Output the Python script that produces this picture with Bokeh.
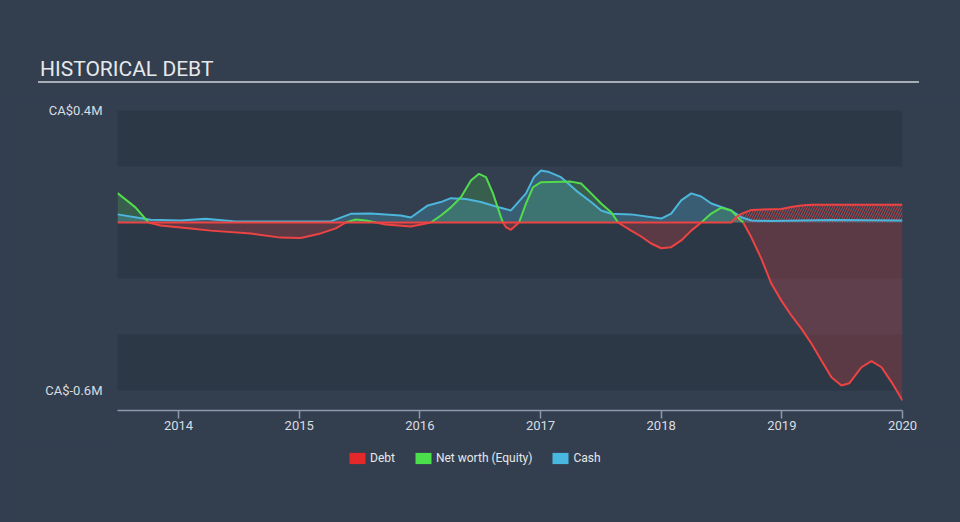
from bokeh.plotting import figure
from bokeh.models import Range1d, FixedTicker, BoxAnnotation, Legend, LegendItem, Div
from bokeh.layouts import column
from bokeh.embed import file_html
from bokeh.resources import INLINE
import numpy as np

# ---------------- data (years, CA$ millions) ----------------
debt_t = [2013.494, 2018.581, 2018.622, 2018.664, 2018.747, 2018.996, 2019.079, 2019.162, 2019.245, 2020.0]
debt_v = [0.0, 0.0, 0.019, 0.031, 0.045, 0.048, 0.055, 0.061, 0.063, 0.063]

cash_t = [2013.494, 2013.768, 2014.017, 2014.224, 2014.473, 2014.680, 2015.261, 2015.427, 2015.593,
          2015.842, 2015.925, 2016.066, 2016.174, 2016.257, 2016.382, 2016.506, 2016.631, 2016.755,
          2016.880, 2016.946, 2017.004, 2017.071, 2017.170, 2017.295, 2017.419, 2017.502, 2017.585,
          2017.751, 2018.000, 2018.083, 2018.166, 2018.249, 2018.332, 2018.415, 2018.581, 2018.664,
          2018.747, 2018.913, 2019.411, 2020.0]
cash_v = [0.029, 0.010, 0.007, 0.013, 0.004, 0.004, 0.004, 0.031, 0.032,
          0.025, 0.018, 0.061, 0.073, 0.087, 0.084, 0.073, 0.057, 0.043,
          0.104, 0.162, 0.186, 0.180, 0.162, 0.114, 0.073, 0.043, 0.031,
          0.029, 0.014, 0.032, 0.079, 0.104, 0.093, 0.068, 0.043, 0.019,
          0.007, 0.005, 0.009, 0.007]

nw_t = [2013.494, 2013.643, 2013.751, 2013.851, 2014.100, 2014.266, 2014.598, 2014.846, 2015.012,
        2015.178, 2015.303, 2015.386, 2015.469, 2015.552, 2015.635, 2015.718, 2015.925, 2016.091,
        2016.174, 2016.257, 2016.340, 2016.423, 2016.490, 2016.548, 2016.606, 2016.672, 2016.689,
        2016.714, 2016.755, 2016.822, 2016.880, 2016.938, 2017.004, 2017.253, 2017.336, 2017.419,
        2017.502, 2017.585, 2017.643, 2017.751, 2017.834, 2017.917, 2018.000, 2018.083, 2018.166,
        2018.249, 2018.332, 2018.415, 2018.498, 2018.581, 2018.647, 2018.680, 2018.747, 2018.830,
        2018.913, 2018.996, 2019.079, 2019.162, 2019.245, 2019.328, 2019.411, 2019.494, 2019.560,
        2019.660, 2019.743, 2019.826, 2019.909, 2020.0]
nw_v = [0.105, 0.054, 0.0, -0.011, -0.021, -0.029, -0.039, -0.054, -0.055,
        -0.039, -0.021, 0.0, 0.011, 0.007, 0.0, -0.007, -0.014, 0.0,
        0.025, 0.054, 0.090, 0.150, 0.174, 0.162, 0.104, 0.019, 0.0,
        -0.017, -0.026, 0.0, 0.068, 0.126, 0.144, 0.146, 0.139, 0.104,
        0.068, 0.037, 0.0, -0.029, -0.050, -0.075, -0.092, -0.088, -0.064,
        -0.029, 0.0, 0.032, 0.053, 0.043, 0.013, 0.0, -0.053, -0.129,
        -0.218, -0.279, -0.332, -0.379, -0.432, -0.493, -0.553, -0.582, -0.574,
        -0.517, -0.495, -0.517, -0.570, -0.636]

x_ticks = [2014, 2015, 2016, 2017, 2018, 2019, 2020]
x_tick_labels = ["2014", "2015", "2016", "2017", "2018", "2019", "2020"]
y_ticks = [-0.6, 0.4]
y_tick_labels = ["CA$-0.6M", "CA$0.4M"]
band_edges = [-0.6, -0.4, -0.2, 0.0, 0.2, 0.4]
series_names = ["Debt", "Net worth (Equity)", "Cash"]
title_text = "HISTORICAL DEBT"

# ---------------- style ----------------
BG = "#333f4f"
BAND = "#2d3846"
FONT = "Roboto"
RED = "#ee4343"
RED_L = "#e5292b"
GREEN = "#52dc4d"
GREEN_L = "#4be04b"
BLUE = "#4cb6dc"
BLUE_L = "#48b8e0"
TXT = "#d9dde2"

# ---------------- title strip ----------------
title_div = Div(
    width=960, height=102,
    text=('<div style="margin:0; margin-left:38px; margin-top:57px; width:881px; padding-left:2px; '
          'border-bottom:2px solid #a7adb5; font-family:Roboto; font-size:21px; line-height:24px; '
          'color:#e6e8ea; white-space:nowrap;">' + title_text + '</div>'),
    styles={"background-color": BG, "margin": "0", "padding": "0"},
)

# ---------------- main chart ----------------
p = figure(frame_width=785, frame_height=300,
           x_range=Range1d(2013.494, 2020.0), y_range=Range1d(-0.6714, 0.4),
           output_backend="svg", toolbar_location=None,
           min_border_left=117, min_border_right=58, min_border_top=8, min_border_bottom=30)
p.background_fill_color = BG
p.border_fill_color = BG
p.outline_line_color = None
p.xgrid.visible = False
p.ygrid.visible = False

for i in range(len(band_edges) - 1):
    if i % 2 == 0:
        p.add_layout(BoxAnnotation(bottom=band_edges[i], top=band_edges[i + 1],
                                   fill_color=BAND, fill_alpha=1.0, line_color=None, level="underlay"))

nw = np.array(nw_v)
nw_pos_fill = np.maximum(nw, 0)
nw_neg_fill = np.minimum(nw, 0)
nw_pos_line = np.where(nw >= 0, nw, np.nan)
nw_neg_line = np.where(nw <= 0, nw, np.nan)

p.varea(x=nw_t, y1=0, y2=nw_neg_fill, fill_color=RED, fill_alpha=0.24)
p.varea(x=nw_t, y1=0, y2=nw_pos_fill, fill_color=GREEN, fill_alpha=0.2)
p.varea(x=cash_t, y1=0, y2=cash_v, fill_color=BLUE, fill_alpha=0.25)
p.varea(x=debt_t, y1=0, y2=debt_v, fill_alpha=0, hatch_pattern="/", hatch_color=RED,
        hatch_alpha=0.75, hatch_scale=5, hatch_weight=1)

p.line(cash_t, cash_v, line_color=BLUE, line_width=2)
p.line(nw_t, nw_pos_line, line_color=GREEN, line_width=2)
p.line(debt_t, debt_v, line_color=RED, line_width=2)
p.line(nw_t, nw_neg_line, line_color=RED, line_width=2)

# axes
p.xaxis.ticker = FixedTicker(ticks=x_ticks)
p.xaxis.major_label_overrides = {t: s for t, s in zip(x_ticks, x_tick_labels)}
p.xaxis.axis_line_color = "#8d99aa"
p.xaxis.axis_line_width = 1.5
p.xaxis.major_tick_line_color = "#8d99aa"
p.xaxis.major_tick_line_width = 1.5
p.xaxis.major_tick_out = 8
p.xaxis.major_tick_in = 0
p.xaxis.minor_tick_line_color = None
p.xaxis.major_label_standoff = 2
p.xaxis.major_label_text_font = FONT
p.xaxis.major_label_text_font_size = "13px"
p.xaxis.major_label_text_color = TXT

p.yaxis.ticker = FixedTicker(ticks=y_ticks)
p.yaxis.major_label_overrides = {t: s for t, s in zip(y_ticks, y_tick_labels)}
p.yaxis.axis_line_color = None
p.yaxis.major_tick_line_color = None
p.yaxis.minor_tick_line_color = None
p.yaxis.major_tick_out = 0
p.yaxis.major_tick_in = 0
p.yaxis.major_label_standoff = 15
p.yaxis.major_label_text_font = FONT
p.yaxis.major_label_text_font_size = "13px"
p.yaxis.major_label_text_color = TXT

# ---------------- legend strip ----------------
# the series are drawn again here, but outside the visible y range,
# only so that the legend has glyphs to show as coloured squares
lg = figure(frame_width=785, frame_height=82, output_backend="svg", toolbar_location=None,
            x_range=Range1d(2013.494, 2020.0), y_range=Range1d(5.0, 6.0),
            x_axis_type=None, y_axis_type=None,
            min_border_left=117, min_border_right=58, min_border_top=0, min_border_bottom=0)
lg.background_fill_color = BG
lg.border_fill_color = BG
lg.outline_line_color = None
lg.grid.visible = False
leg_colors = [RED_L, GREEN_L, BLUE_L]
leg_series = [(debt_t, debt_v), (nw_t, nw_v), (cash_t, cash_v)]
items = []
for name, c, (tt, vv) in zip(series_names, leg_colors, leg_series):
    r = lg.varea(x=tt, y1=0, y2=vv, fill_color=c, fill_alpha=1.0)
    items.append(LegendItem(label=name, renderers=[r]))
legend = Legend(items=items, orientation="horizontal", location=(230, 57),
                glyph_width=20, glyph_height=14, label_standoff=3, spacing=18,
                padding=0, margin=0, border_line_color=None, background_fill_alpha=0,
                label_text_font=FONT, label_text_font_size="12px", label_text_color="#e6e8ea",
                label_height=14)
lg.add_layout(legend)

layout = column(title_div, p, lg, spacing=0)
html = file_html(layout, INLINE)
html = html.replace("</head>", "<style>body{background:#333f4f;}</style></head>", 1)
open("out.html", "w").write(html)
